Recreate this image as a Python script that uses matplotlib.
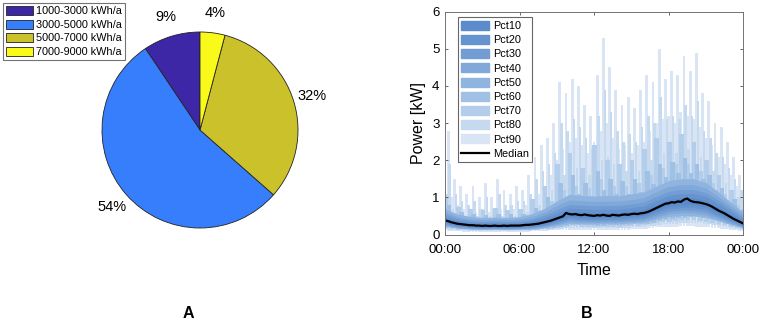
import numpy as np
import matplotlib
matplotlib.use("Agg")
import matplotlib.pyplot as plt
from matplotlib.patches import Patch
from matplotlib.lines import Line2D

plt.rcParams["font.family"] = ["Liberation Sans", "DejaVu Sans"]

# ---------------------------------------------------------------------------
# Panel A: share of households per annual consumption class
# ---------------------------------------------------------------------------
classes = ["1000-3000 kWh/a", "3000-5000 kWh/a", "5000-7000 kWh/a", "7000-9000 kWh/a"]
shares = [9.4, 54.1, 32.4, 4.1]
class_colors = ["#3d27a6", "#367efc", "#cbc12a", "#f9f91a"]

# ---------------------------------------------------------------------------
# Panel B: daily load profile, percentile bands + median (kW)
# ---------------------------------------------------------------------------
time_ticks = [0, 6, 12, 18, 24]
time_labels = ["00:00", "06:00", "12:00", "18:00", "00:00"]

t_15min = np.arange(0, 24.01, 0.25)   # 97 points
t_30min = np.arange(0, 24.01, 0.5)    # 49 points
t_1h = np.arange(0, 25, 1)            # 25 points

median_kw = [
    0.38, 0.36, 0.33, 0.31, 0.29, 0.28, 0.27, 0.26,
    0.25, 0.25, 0.24, 0.24, 0.23, 0.24, 0.23, 0.23,
    0.24, 0.23, 0.23, 0.24, 0.23, 0.24, 0.24, 0.24,
    0.24, 0.25, 0.26, 0.26, 0.27, 0.28, 0.29, 0.31,
    0.33, 0.35, 0.37, 0.40, 0.43, 0.46, 0.49, 0.58,
    0.55, 0.54, 0.55, 0.53, 0.52, 0.54, 0.52, 0.51,
    0.50, 0.52, 0.51, 0.53, 0.51, 0.50, 0.53, 0.52,
    0.51, 0.53, 0.54, 0.53, 0.55, 0.56, 0.55, 0.57,
    0.58, 0.60, 0.63, 0.67, 0.71, 0.75, 0.79, 0.83,
    0.84, 0.87, 0.86, 0.89, 0.88, 0.94, 0.97, 0.91,
    0.88, 0.87, 0.86, 0.84, 0.82, 0.79, 0.75, 0.70,
    0.65, 0.61, 0.57, 0.52, 0.47, 0.42, 0.38, 0.34,
    0.30,
]

# -- outer (spiky) bands: 15 min for Pct90 / Pct80, 30 min for Pct70 / Pct60
pct90_hi = [
    1.6, 2.8, 1.0, 1.5, 0.8, 1.3, 0.7, 1.1,
    0.7, 1.3, 0.6, 1.0, 0.7, 1.4, 0.6, 1.0,
    0.7, 1.5, 0.7, 1.2, 0.6, 1.1, 0.7, 1.3,
    0.7, 1.2, 0.8, 1.6, 0.9, 2.1, 1.1, 2.4,
    1.3, 2.6, 1.6, 3.0, 2.0, 4.1, 2.3, 3.8,
    2.5, 4.2, 2.6, 4.0, 2.4, 3.5, 2.2, 3.2,
    2.5, 4.3, 2.8, 5.3, 3.0, 4.5, 2.6, 3.9,
    2.3, 3.5, 2.4, 3.7, 2.2, 3.4, 2.4, 3.9,
    2.5, 4.3, 2.8, 4.1, 3.0, 5.0, 3.1, 4.2,
    3.2, 4.4, 3.0, 4.3, 3.3, 4.8, 3.2, 4.4,
    3.1, 4.9, 2.9, 3.8, 2.6, 3.6, 2.4, 3.0,
    2.1, 2.9, 1.9, 2.5, 1.6, 2.1, 1.3, 1.6,
    1.2,
]
pct90_lo = [
    0.11, 0.10, 0.10, 0.09, 0.09, 0.09, 0.08, 0.08,
    0.08, 0.08, 0.08, 0.08, 0.08, 0.08, 0.08, 0.08,
    0.08, 0.08, 0.08, 0.08, 0.08, 0.08, 0.08, 0.08,
    0.08, 0.08, 0.08, 0.08, 0.09, 0.09, 0.09, 0.10,
    0.10, 0.10, 0.11, 0.11, 0.12, 0.12, 0.13, 0.13,
    0.13, 0.13, 0.13, 0.13, 0.12, 0.12, 0.12, 0.12,
    0.12, 0.12, 0.12, 0.12, 0.12, 0.12, 0.12, 0.12,
    0.12, 0.12, 0.13, 0.13, 0.14, 0.14, 0.15, 0.15,
    0.15, 0.16, 0.17, 0.18, 0.19, 0.19, 0.20, 0.20,
    0.20, 0.21, 0.21, 0.21, 0.22, 0.22, 0.22, 0.22,
    0.22, 0.21, 0.21, 0.20, 0.19, 0.19, 0.18, 0.17,
    0.17, 0.16, 0.15, 0.14, 0.13, 0.12, 0.11, 0.10,
    0.09,
]
pct80_hi = [
    1.10, 1.90, 0.70, 1.10, 0.60, 0.90, 0.50, 0.80,
    0.50, 0.90, 0.50, 0.70, 0.50, 1.00, 0.50, 0.70,
    0.50, 1.10, 0.50, 0.80, 0.50, 0.80, 0.50, 0.90,
    0.50, 0.90, 0.60, 1.10, 0.70, 1.50, 0.80, 1.70,
    1.00, 1.90, 1.20, 2.20, 1.40, 3.00, 1.60, 2.80,
    1.80, 3.10, 1.80, 2.90, 1.70, 2.60, 1.60, 2.30,
    1.80, 3.20, 2.00, 3.90, 2.10, 3.30, 1.90, 2.80,
    1.70, 2.50, 1.70, 2.70, 1.60, 2.50, 1.70, 2.90,
    1.80, 3.20, 2.00, 3.00, 2.10, 3.70, 2.20, 3.10,
    2.30, 3.20, 2.20, 3.10, 2.40, 3.50, 2.30, 3.20,
    2.20, 3.60, 2.10, 2.80, 1.90, 2.60, 1.70, 2.20,
    1.50, 2.10, 1.40, 1.80, 1.20, 1.50, 1.00, 1.20,
    0.90,
]
pct80_lo = [
    0.14, 0.13, 0.13, 0.12, 0.12, 0.11, 0.11, 0.10,
    0.10, 0.10, 0.10, 0.10, 0.10, 0.10, 0.10, 0.10,
    0.10, 0.10, 0.10, 0.10, 0.10, 0.10, 0.10, 0.10,
    0.10, 0.10, 0.10, 0.10, 0.11, 0.11, 0.11, 0.12,
    0.12, 0.13, 0.13, 0.14, 0.15, 0.16, 0.17, 0.17,
    0.18, 0.18, 0.18, 0.18, 0.18, 0.18, 0.17, 0.17,
    0.17, 0.17, 0.17, 0.17, 0.17, 0.17, 0.17, 0.17,
    0.17, 0.17, 0.18, 0.18, 0.19, 0.19, 0.20, 0.20,
    0.21, 0.22, 0.23, 0.24, 0.25, 0.26, 0.27, 0.28,
    0.28, 0.29, 0.29, 0.30, 0.30, 0.31, 0.31, 0.31,
    0.31, 0.30, 0.30, 0.29, 0.28, 0.27, 0.26, 0.25,
    0.24, 0.22, 0.21, 0.19, 0.17, 0.16, 0.14, 0.13,
    0.12,
]
pct70_hi = [
    1.00, 0.55, 0.75, 0.45,
    0.70, 0.42, 0.65, 0.42,
    0.72, 0.42, 0.66, 0.45,
    0.70, 0.52, 0.95, 0.65,
    1.30, 0.90, 1.90, 1.20,
    2.20, 1.30, 1.80, 1.25,
    2.40, 1.50, 2.00, 1.30,
    1.90, 1.30, 2.00, 1.40,
    2.30, 1.60, 2.60, 1.80,
    2.50, 1.90, 2.70, 1.90,
    2.50, 1.70, 2.00, 1.40,
    1.60, 1.10, 1.20, 0.80,
    0.70,
]
pct70_lo = [
    0.16, 0.15, 0.13, 0.12,
    0.12, 0.11, 0.11, 0.11,
    0.11, 0.11, 0.11, 0.11,
    0.11, 0.11, 0.12, 0.13,
    0.14, 0.16, 0.18, 0.20,
    0.22, 0.22, 0.21, 0.21,
    0.20, 0.20, 0.21, 0.21,
    0.21, 0.22, 0.23, 0.24,
    0.25, 0.27, 0.30, 0.33,
    0.35, 0.37, 0.38, 0.39,
    0.39, 0.37, 0.35, 0.32,
    0.29, 0.25, 0.21, 0.17,
    0.14,
]
pct60_hi = [
    0.80, 0.48, 0.60, 0.40,
    0.55, 0.37, 0.52, 0.36,
    0.56, 0.36, 0.54, 0.38,
    0.55, 0.44, 0.72, 0.55,
    1.00, 0.75, 1.40, 1.00,
    1.60, 1.10, 1.40, 1.05,
    1.70, 1.20, 1.50, 1.10,
    1.45, 1.10, 1.50, 1.15,
    1.70, 1.35, 1.90, 1.55,
    1.95, 1.65, 2.05, 1.65,
    1.90, 1.50, 1.60, 1.20,
    1.25, 0.90, 0.95, 0.65,
    0.55,
]
pct60_lo = [
    0.19, 0.17, 0.15, 0.14,
    0.13, 0.13, 0.12, 0.12,
    0.12, 0.12, 0.12, 0.12,
    0.12, 0.13, 0.13, 0.14,
    0.16, 0.18, 0.21, 0.23,
    0.26, 0.26, 0.25, 0.25,
    0.24, 0.24, 0.25, 0.25,
    0.25, 0.26, 0.27, 0.28,
    0.29, 0.32, 0.36, 0.39,
    0.42, 0.44, 0.45, 0.46,
    0.46, 0.44, 0.42, 0.38,
    0.34, 0.29, 0.25, 0.20,
    0.16,
]

# -- inner (smooth) bands, hourly
pct50_hi = [0.70, 0.55, 0.49, 0.46, 0.47, 0.46, 0.48, 0.56, 0.70, 0.90, 1.08, 1.05, 1.03,
            1.05, 1.04, 1.09, 1.14, 1.30, 1.45, 1.50, 1.50, 1.40, 1.15, 0.88, 0.60]
pct50_lo = [0.22, 0.17, 0.15, 0.14, 0.14, 0.14, 0.14, 0.15, 0.19, 0.24, 0.30, 0.29, 0.28,
            0.29, 0.29, 0.31, 0.33, 0.41, 0.48, 0.51, 0.51, 0.47, 0.37, 0.27, 0.18]
pct40_hi = [0.62, 0.48, 0.42, 0.40, 0.41, 0.40, 0.42, 0.48, 0.60, 0.78, 0.93, 0.91, 0.89,
            0.90, 0.90, 0.94, 0.99, 1.15, 1.29, 1.34, 1.34, 1.25, 1.03, 0.78, 0.53]
pct40_lo = [0.25, 0.19, 0.16, 0.15, 0.16, 0.15, 0.16, 0.17, 0.21, 0.27, 0.34, 0.33, 0.32,
            0.33, 0.33, 0.35, 0.37, 0.46, 0.55, 0.58, 0.58, 0.53, 0.42, 0.30, 0.20]
pct30_hi = [0.55, 0.43, 0.37, 0.35, 0.36, 0.35, 0.36, 0.42, 0.52, 0.67, 0.81, 0.79, 0.77,
            0.78, 0.78, 0.82, 0.87, 1.02, 1.16, 1.21, 1.21, 1.13, 0.93, 0.70, 0.47]
pct30_lo = [0.28, 0.21, 0.18, 0.17, 0.17, 0.17, 0.17, 0.19, 0.23, 0.30, 0.39, 0.37, 0.36,
            0.37, 0.37, 0.39, 0.42, 0.52, 0.62, 0.65, 0.65, 0.60, 0.47, 0.34, 0.22]
pct20_hi = [0.49, 0.38, 0.33, 0.31, 0.32, 0.31, 0.32, 0.37, 0.45, 0.58, 0.71, 0.69, 0.67,
            0.68, 0.68, 0.72, 0.77, 0.91, 1.05, 1.10, 1.10, 1.03, 0.84, 0.62, 0.41]
pct20_lo = [0.31, 0.23, 0.20, 0.18, 0.19, 0.18, 0.19, 0.21, 0.26, 0.34, 0.44, 0.41, 0.40,
            0.41, 0.41, 0.44, 0.47, 0.58, 0.69, 0.72, 0.72, 0.67, 0.52, 0.38, 0.24]
pct10_hi = [0.43, 0.33, 0.29, 0.27, 0.28, 0.27, 0.28, 0.32, 0.39, 0.50, 0.62, 0.60, 0.58,
            0.59, 0.59, 0.63, 0.67, 0.80, 0.94, 0.99, 0.99, 0.92, 0.74, 0.54, 0.35]
pct10_lo = [0.34, 0.26, 0.22, 0.20, 0.21, 0.20, 0.21, 0.24, 0.29, 0.38, 0.49, 0.46, 0.45,
            0.46, 0.46, 0.49, 0.52, 0.64, 0.76, 0.80, 0.80, 0.74, 0.58, 0.42, 0.27]

band_names = ["Pct10", "Pct20", "Pct30", "Pct40", "Pct50", "Pct60", "Pct70", "Pct80", "Pct90"]
band_colors = ["#5b8bca", "#6593cf", "#719dd4", "#80a8d9", "#8fb4df",
               "#a0c0e4", "#b3cdea", "#c5d9ef", "#d9e5f4"]

W, H = 765, 331
fig = plt.figure(figsize=(W / 100, H / 100), dpi=100)

# --- A: pie -----------------------------------------------------------------
ax_pie = fig.add_axes([77.5 / W, 1 - 252.5 / H, 245 / W, 245 / H])
ax_pie.pie(shares, colors=class_colors, startangle=90, counterclock=True,
           autopct=lambda p: "%.0f%%" % p, pctdistance=1.2,
           wedgeprops=dict(edgecolor="#222222", linewidth=0.6),
           textprops=dict(fontsize=10.5, color="black"))
ax_pie.set_xlim(-1.25, 1.25)
ax_pie.set_ylim(-1.25, 1.25)
ax_pie.set_aspect("equal")
ax_pie.axis("off")

pie_handles = [Patch(facecolor=c, edgecolor="#222222", linewidth=0.6) for c in class_colors]
leg_a = fig.legend(pie_handles, classes, loc="upper left",
                   bbox_to_anchor=(3 / W, 1 - 3 / H), bbox_transform=fig.transFigure,
                   borderaxespad=0, fontsize=7.8, frameon=True, fancybox=False,
                   edgecolor="0.45", framealpha=1, handlelength=2.5, handleheight=0.9,
                   labelspacing=0.3, handletextpad=0.25, borderpad=0.3)
leg_a.get_frame().set_linewidth(0.8)

# --- B: load profile --------------------------------------------------------
ax = fig.add_axes([445 / W, 1 - 234.5 / H, 298 / W, (234.5 - 11.7) / H])

# outer bands as vertical streaks, drawn widest first; each band on a
# slightly shifted sub-grid so the streaks interleave
c = dict(zip(band_names, band_colors))
ax.bar(t_15min, np.subtract(pct90_hi, pct90_lo), bottom=pct90_lo, width=0.23,
       color=c["Pct90"], linewidth=0)
ax.bar(t_15min + 0.125, np.subtract(pct80_hi, pct80_lo), bottom=pct80_lo, width=0.2,
       color=c["Pct80"], linewidth=0)
ax.bar(t_30min + 0.06, np.subtract(pct70_hi, pct70_lo), bottom=pct70_lo, width=0.38,
       color=c["Pct70"], linewidth=0)
ax.bar(t_30min + 0.31, np.subtract(pct60_hi, pct60_lo), bottom=pct60_lo, width=0.36,
       color=c["Pct60"], linewidth=0)
# inner bands as smooth areas
for name, hi, lo in [("Pct50", pct50_hi, pct50_lo), ("Pct40", pct40_hi, pct40_lo),
                     ("Pct30", pct30_hi, pct30_lo), ("Pct20", pct20_hi, pct20_lo),
                     ("Pct10", pct10_hi, pct10_lo)]:
    ax.fill_between(t_1h, lo, hi, color=c[name], linewidth=0)
ax.plot(t_15min, median_kw, color="black", lw=1.6)

ax.set_xlim(0, 24)
ax.set_ylim(0, 6)
ax.set_xticks(time_ticks)
ax.set_xticklabels(time_labels)
ax.set_yticks(range(0, 7))
ax.tick_params(direction="in", top=True, right=True, length=2.5, width=0.6,
               color="0.3", labelsize=9.5)
ax.tick_params(axis="x", pad=7)
ax.tick_params(axis="y", pad=4)
for sp in ax.spines.values():
    sp.set_linewidth(0.7)
    sp.set_color("0.45")
ax.set_xlabel("Time", fontsize=11.5, labelpad=5)
ax.set_ylabel("Power [kW]", fontsize=11.5, labelpad=4)

band_handles = [Patch(facecolor=col, edgecolor=col) for col in band_colors]
band_handles.append(Line2D([0], [0], color="black", lw=1.6))
leg_b = ax.legend(band_handles, band_names + ["Median"], loc="upper left",
                  bbox_to_anchor=(458 / W, 1 - 17.3 / H), bbox_transform=fig.transFigure,
                  borderaxespad=0, fontsize=7.8, frameon=True, fancybox=False,
                  edgecolor="0.4", framealpha=1, handlelength=2.6, handleheight=0.9,
                  labelspacing=0.37, handletextpad=0.3, borderpad=0.3)
leg_b.get_frame().set_linewidth(0.8)

fig.text(188 / W, 1 - 313 / H, "A", ha="center", va="center", fontsize=11.5, fontweight="bold")
fig.text(587 / W, 1 - 313 / H, "B", ha="center", va="center", fontsize=11.5, fontweight="bold")

fig.savefig("out.png", dpi=100)
